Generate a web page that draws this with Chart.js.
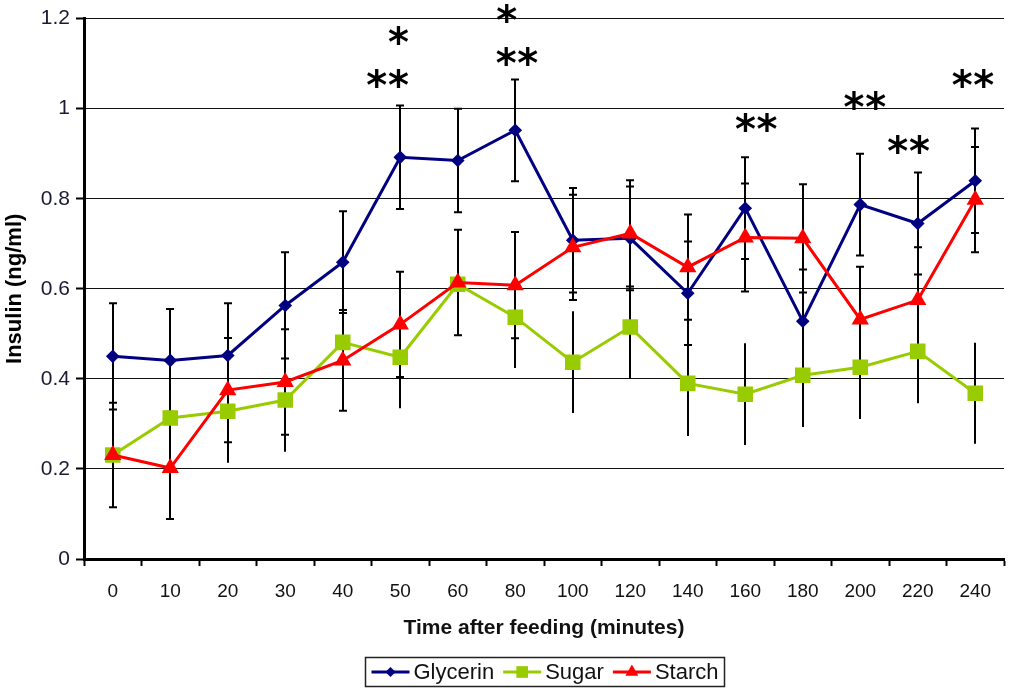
<!DOCTYPE html>
<html>
<head>
<meta charset="utf-8">
<script src="https://cdn.jsdelivr.net/npm/chart.js@4.4.1/dist/chart.umd.min.js"></script>
<style>
  html, body { margin: 0; padding: 0; background: #fff; overflow: hidden; }
  canvas { display: block; }
</style>
</head>
<body>
<canvas id="insulinChart" width="1015" height="692"></canvas>
<script>
// Sampling times (minutes after feeding)
const timeLabels = ['0', '10', '20', '30', '40', '50', '60', '80', '100', '120', '140', '160', '180', '200', '220', '240'];

// Mean plasma insulin (ng/ml) and error per group
const glycerin    = [0.450, 0.441, 0.452, 0.563, 0.659, 0.892, 0.885, 0.952, 0.708, 0.712, 0.590, 0.779, 0.528, 0.787, 0.745, 0.840];
const glycerinErr = [0.118, 0.114, 0.116, 0.118, 0.113, 0.115, 0.115, 0.113, 0.116, 0.115, 0.115, 0.113, 0.115, 0.113, 0.113, 0.116];

const sugar    = [0.231, 0.313, 0.328, 0.353, 0.481, 0.448, 0.610, 0.537, 0.437, 0.515, 0.390, 0.366, 0.408, 0.426, 0.461, 0.368];
const sugarErr = [0.116, 0.112, 0.114, 0.115, 0.114, 0.113, 0.115, 0.113, 0.113, 0.114, 0.117, 0.113, 0.115, 0.115, 0.115, 0.112];

const starch    = [0.231, 0.202, 0.375, 0.393, 0.441, 0.521, 0.614, 0.608, 0.692, 0.723, 0.648, 0.714, 0.712, 0.532, 0.575, 0.798];
const starchErr = [0.116, 0.113, 0.116, 0.117, 0.112, 0.117, 0.117, 0.118, 0.117, 0.118, 0.117, 0.120, 0.120, 0.117, 0.117, 0.117];

// Y axis tick values
const yTicks = [0, 0.2, 0.4, 0.6, 0.8, 1.0, 1.2];

// Significance marks: x on the category scale, y in ng/ml
const sigMarks = [
  { x: 4.78,  y: 1.067, text: '**' },
  { x: 4.97,  y: 1.163, text: '*'  },
  { x: 7.03,  y: 1.117, text: '**' },
  { x: 6.85,  y: 1.212, text: '*'  },
  { x: 11.19, y: 0.970, text: '**' },
  { x: 13.08, y: 1.019, text: '**' },
  { x: 13.84, y: 0.922, text: '**' },
  { x: 14.96, y: 1.068, text: '**' }
];

const FONT = '"Liberation Sans", Arial, Helvetica, sans-serif';

// Vertical error bars, drawn beneath the lines and markers
const errorBars = {
  id: 'errorBars',
  beforeDatasetsDraw(chart) {
    const { ctx, scales: { x, y } } = chart;
    ctx.save();
    ctx.strokeStyle = '#000';
    ctx.lineWidth = 2;
    chart.data.datasets.forEach(ds => {
      if (!ds.errors) return;
      const cap = ds.errorCap || 0;
      ds.data.forEach((v, i) => {
        const e = ds.errors[i];
        const px = Math.round(x.getPixelForValue(i));
        const yTop = y.getPixelForValue(v + e);
        const yBot = y.getPixelForValue(v - e);
        ctx.beginPath();
        ctx.moveTo(px, yTop);
        ctx.lineTo(px, yBot);
        if (cap > 0) {
          ctx.moveTo(px - cap / 2, yTop);
          ctx.lineTo(px + cap / 2, yTop);
          ctx.moveTo(px - cap / 2, yBot);
          ctx.lineTo(px + cap / 2, yBot);
        }
        ctx.stroke();
      });
    });
    ctx.restore();
  }
};

// Asterisks marking significant differences
const significance = {
  id: 'significance',
  afterDatasetsDraw(chart) {
    const { ctx, scales: { x, y } } = chart;
    ctx.save();
    ctx.fillStyle = '#000';
    ctx.font = 'bold 40px "DejaVu Sans", sans-serif';
    ctx.textAlign = 'center';
    ctx.textBaseline = 'alphabetic';
    const m = ctx.measureText('*');
    const shift = (m.actualBoundingBoxAscent - m.actualBoundingBoxDescent) / 2;
    const gap = 21.6;
    sigMarks.forEach(s => {
      const cx = x.getPixelForValue(s.x);
      const cy = y.getPixelForValue(s.y) + shift;
      const n = s.text.length;
      for (let k = 0; k < n; k++) {
        ctx.fillText('*', cx + (k - (n - 1) / 2) * gap, cy);
      }
    });
    ctx.restore();
  }
};

// Boxed legend with line + marker samples, centred under the plot
const boxedLegend = {
  id: 'boxedLegend',
  afterDraw(chart) {
    const { ctx, chartArea } = chart;
    const sets = chart.data.datasets;
    ctx.save();
    ctx.font = '22px ' + FONT;
    const lineLen = 38, gapText = 4, gapItem = 9, padX = 6;
    const widths = sets.map(d => ctx.measureText(d.label).width);
    let total = padX * 2;
    widths.forEach((w, i) => { total += lineLen + gapText + w + (i < sets.length - 1 ? gapItem : 0); });
    const cx = (chartArea.left + chartArea.right) / 2;
    const left = Math.round(cx - total / 2) + 0.5;
    const top = chart.height - 34.5, h = 29;
    ctx.strokeStyle = '#222';
    ctx.lineWidth = 1.5;
    ctx.strokeRect(left, top, Math.round(total), h);
    const midY = top + h / 2;
    let xPos = left + padX;
    sets.forEach((d, i) => {
      ctx.strokeStyle = d.borderColor;
      ctx.lineWidth = 3;
      ctx.beginPath();
      ctx.moveTo(xPos, midY);
      ctx.lineTo(xPos + lineLen, midY);
      ctx.stroke();
      ctx.fillStyle = d.pointBackgroundColor;
      Chart.helpers.drawPoint(ctx, {
        pointStyle: d.pointStyle,
        radius: d.pointRadius * 0.75,
        rotation: 0,
        borderWidth: 0
      }, xPos + lineLen / 2, midY);
      ctx.fillStyle = '#111';
      ctx.textAlign = 'left';
      ctx.textBaseline = 'middle';
      ctx.fillText(d.label, xPos + lineLen + gapText, midY + 1);
      xPos += lineLen + gapText + widths[i] + gapItem;
    });
    ctx.restore();
  }
};

new Chart(document.getElementById('insulinChart'), {
  type: 'line',
  data: {
    labels: timeLabels,
    datasets: [
      {
        label: 'Glycerin',
        data: glycerin,
        errors: glycerinErr,
        errorCap: 8,
        borderColor: '#000080',
        backgroundColor: '#000080',
        pointBackgroundColor: '#000080',
        pointBorderColor: '#000080',
        pointStyle: 'rectRot',
        pointRadius: 6.8,
        pointBorderWidth: 0,
        borderWidth: 3,
        order: 3
      },
      {
        label: 'Sugar',
        data: sugar,
        errors: sugarErr,
        errorCap: 0,
        borderColor: '#99CC00',
        backgroundColor: '#99CC00',
        pointBackgroundColor: '#99CC00',
        pointBorderColor: '#99CC00',
        pointStyle: 'rect',
        pointRadius: 11,
        pointBorderWidth: 0,
        borderWidth: 3,
        order: 2
      },
      {
        label: 'Starch',
        data: starch,
        errors: starchErr,
        errorCap: 8,
        borderColor: '#FF0000',
        backgroundColor: '#FF0000',
        pointBackgroundColor: '#FF0000',
        pointBorderColor: '#FF0000',
        pointStyle: 'triangle',
        pointRadius: 10,
        pointBorderWidth: 0,
        borderWidth: 3,
        order: 1
      }
    ]
  },
  options: {
    responsive: false,
    animation: false,
    devicePixelRatio: 1,
    layout: { padding: { top: 18, right: 1, bottom: 0, left: 0 } },
    plugins: {
      legend: { display: false },
      tooltip: { enabled: false }
    },
    elements: { line: { tension: 0 } },
    scales: {
      x: {
        type: 'category',
        offset: true,
        grid: {
          offset: true,
          drawOnChartArea: false,
          drawTicks: true,
          tickLength: 7,
          tickColor: '#000',
          tickWidth: 2
        },
        border: { display: true, color: '#000', width: 3 },
        ticks: {
          color: '#111',
          font: { family: FONT, size: 19 },
          padding: 14,
          maxRotation: 0,
          autoSkip: false
        },
        title: {
          display: true,
          text: 'Time after feeding (minutes)',
          color: '#111',
          font: { family: FONT, size: 21, weight: 'bold' },
          padding: { top: 0, bottom: 51 }
        },
        afterFit(scale) { scale.height = 133; }
      },
      y: {
        min: 0,
        max: 1.2,
        afterBuildTicks(scale) { scale.ticks = yTicks.map(v => ({ value: v })); },
        grid: {
          color: '#111',
          lineWidth: 1,
          drawTicks: true,
          tickLength: 8,
          tickColor: '#000',
          tickWidth: 2
        },
        border: { display: true, color: '#000', width: 3 },
        ticks: {
          color: '#1a1a33',
          font: { family: FONT, size: 21 },
          padding: 6,
          callback: v => String(Math.round(v * 10) / 10)
        },
        title: {
          display: true,
          text: 'Insulin (ng/ml)',
          color: '#000',
          font: { family: FONT, size: 22, weight: 'bold' },
          padding: { top: 2, bottom: 0 }
        },
        afterFit(scale) { scale.width = 84; }
      }
    }
  },
  plugins: [errorBars, significance, boxedLegend]
});
</script>
</body>
</html>
